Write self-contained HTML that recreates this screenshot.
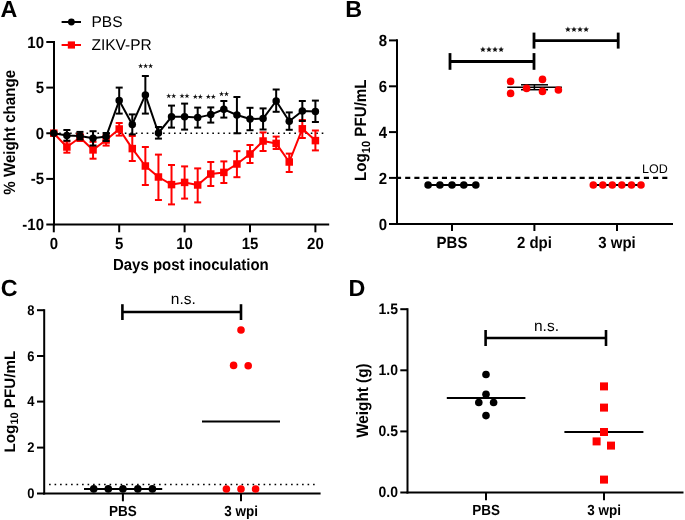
<!DOCTYPE html>
<html><head><meta charset="utf-8"><style>
html,body{margin:0;padding:0;background:#fff;}
body{width:685px;height:520px;overflow:hidden;}
svg{display:block;will-change:transform;}
text{font-family:"Liberation Sans",sans-serif;fill:#000;text-rendering:geometricPrecision;}
</style></head><body>
<svg width="685" height="520" viewBox="0 0 685 520">
<rect width="685" height="520" fill="#fff"/>
<text x="0.60" y="17.10" font-size="23.3" font-weight="bold" text-anchor="start" >A</text>
<line x1="53.70" y1="133.30" x2="324.50" y2="133.30" stroke="#000000" stroke-width="1.6" stroke-dasharray="1.6 3.87"/>
<line x1="54.00" y1="41.00" x2="54.00" y2="225.50" stroke="#000000" stroke-width="2" />
<line x1="53.00" y1="224.50" x2="329.20" y2="224.50" stroke="#000000" stroke-width="2" />
<line x1="46.30" y1="42.00" x2="54.00" y2="42.00" stroke="#000000" stroke-width="2" />
<text transform="translate(44.00 47.50) scale(1.0 1.08)" font-size="15" font-weight="bold" text-anchor="end" >10</text>
<line x1="46.30" y1="87.60" x2="54.00" y2="87.60" stroke="#000000" stroke-width="2" />
<text transform="translate(44.00 93.10) scale(1.0 1.08)" font-size="15" font-weight="bold" text-anchor="end" >5</text>
<line x1="46.30" y1="133.25" x2="54.00" y2="133.25" stroke="#000000" stroke-width="2" />
<text transform="translate(44.00 138.75) scale(1.0 1.08)" font-size="15" font-weight="bold" text-anchor="end" >0</text>
<line x1="46.30" y1="178.90" x2="54.00" y2="178.90" stroke="#000000" stroke-width="2" />
<text transform="translate(44.00 184.40) scale(1.0 1.08)" font-size="15" font-weight="bold" text-anchor="end" >-5</text>
<line x1="46.30" y1="224.50" x2="54.00" y2="224.50" stroke="#000000" stroke-width="2" />
<text transform="translate(44.00 230.00) scale(1.0 1.08)" font-size="15" font-weight="bold" text-anchor="end" >-10</text>
<line x1="53.80" y1="224.50" x2="53.80" y2="232.30" stroke="#000000" stroke-width="2" />
<text transform="translate(53.80 248.80) scale(1.0 1.08)" font-size="15" font-weight="bold" text-anchor="middle" >0</text>
<line x1="119.20" y1="224.50" x2="119.20" y2="232.30" stroke="#000000" stroke-width="2" />
<text transform="translate(119.20 248.80) scale(1.0 1.08)" font-size="15" font-weight="bold" text-anchor="middle" >5</text>
<line x1="184.60" y1="224.50" x2="184.60" y2="232.30" stroke="#000000" stroke-width="2" />
<text transform="translate(184.60 248.80) scale(1.0 1.08)" font-size="15" font-weight="bold" text-anchor="middle" >10</text>
<line x1="250.00" y1="224.50" x2="250.00" y2="232.30" stroke="#000000" stroke-width="2" />
<text transform="translate(250.00 248.80) scale(1.0 1.08)" font-size="15" font-weight="bold" text-anchor="middle" >15</text>
<line x1="315.40" y1="224.50" x2="315.40" y2="232.30" stroke="#000000" stroke-width="2" />
<text transform="translate(315.40 248.80) scale(1.0 1.08)" font-size="15" font-weight="bold" text-anchor="middle" >20</text>
<text transform="translate(190.80 269.70) scale(1.0 1.07)" font-size="15" font-weight="bold" text-anchor="middle" >Days post inoculation</text>
<text transform="translate(15.40 132.30) rotate(-90) scale(1 1.08)" font-size="15.1" font-weight="bold" text-anchor="middle">% Weight change</text>
<line x1="66.88" y1="141.50" x2="66.88" y2="152.70" stroke="#ff0000" stroke-width="2" />
<line x1="63.38" y1="141.50" x2="70.38" y2="141.50" stroke="#ff0000" stroke-width="2" />
<line x1="63.38" y1="152.70" x2="70.38" y2="152.70" stroke="#ff0000" stroke-width="2" />
<line x1="79.96" y1="134.00" x2="79.96" y2="141.00" stroke="#ff0000" stroke-width="2" />
<line x1="76.46" y1="134.00" x2="83.46" y2="134.00" stroke="#ff0000" stroke-width="2" />
<line x1="76.46" y1="141.00" x2="83.46" y2="141.00" stroke="#ff0000" stroke-width="2" />
<line x1="93.04" y1="141.80" x2="93.04" y2="158.70" stroke="#ff0000" stroke-width="2" />
<line x1="89.54" y1="141.80" x2="96.54" y2="141.80" stroke="#ff0000" stroke-width="2" />
<line x1="89.54" y1="158.70" x2="96.54" y2="158.70" stroke="#ff0000" stroke-width="2" />
<line x1="106.12" y1="135.00" x2="106.12" y2="145.60" stroke="#ff0000" stroke-width="2" />
<line x1="102.62" y1="135.00" x2="109.62" y2="135.00" stroke="#ff0000" stroke-width="2" />
<line x1="102.62" y1="145.60" x2="109.62" y2="145.60" stroke="#ff0000" stroke-width="2" />
<line x1="119.20" y1="123.00" x2="119.20" y2="135.60" stroke="#ff0000" stroke-width="2" />
<line x1="115.70" y1="123.00" x2="122.70" y2="123.00" stroke="#ff0000" stroke-width="2" />
<line x1="115.70" y1="135.60" x2="122.70" y2="135.60" stroke="#ff0000" stroke-width="2" />
<line x1="132.28" y1="136.00" x2="132.28" y2="161.00" stroke="#ff0000" stroke-width="2" />
<line x1="128.78" y1="136.00" x2="135.78" y2="136.00" stroke="#ff0000" stroke-width="2" />
<line x1="128.78" y1="161.00" x2="135.78" y2="161.00" stroke="#ff0000" stroke-width="2" />
<line x1="145.36" y1="147.00" x2="145.36" y2="185.00" stroke="#ff0000" stroke-width="2" />
<line x1="141.86" y1="147.00" x2="148.86" y2="147.00" stroke="#ff0000" stroke-width="2" />
<line x1="141.86" y1="185.00" x2="148.86" y2="185.00" stroke="#ff0000" stroke-width="2" />
<line x1="158.44" y1="154.60" x2="158.44" y2="200.00" stroke="#ff0000" stroke-width="2" />
<line x1="154.94" y1="154.60" x2="161.94" y2="154.60" stroke="#ff0000" stroke-width="2" />
<line x1="154.94" y1="200.00" x2="161.94" y2="200.00" stroke="#ff0000" stroke-width="2" />
<line x1="171.52" y1="165.00" x2="171.52" y2="204.40" stroke="#ff0000" stroke-width="2" />
<line x1="168.02" y1="165.00" x2="175.02" y2="165.00" stroke="#ff0000" stroke-width="2" />
<line x1="168.02" y1="204.40" x2="175.02" y2="204.40" stroke="#ff0000" stroke-width="2" />
<line x1="184.60" y1="166.40" x2="184.60" y2="198.60" stroke="#ff0000" stroke-width="2" />
<line x1="181.10" y1="166.40" x2="188.10" y2="166.40" stroke="#ff0000" stroke-width="2" />
<line x1="181.10" y1="198.60" x2="188.10" y2="198.60" stroke="#ff0000" stroke-width="2" />
<line x1="197.68" y1="168.40" x2="197.68" y2="202.40" stroke="#ff0000" stroke-width="2" />
<line x1="194.18" y1="168.40" x2="201.18" y2="168.40" stroke="#ff0000" stroke-width="2" />
<line x1="194.18" y1="202.40" x2="201.18" y2="202.40" stroke="#ff0000" stroke-width="2" />
<line x1="210.76" y1="162.00" x2="210.76" y2="186.00" stroke="#ff0000" stroke-width="2" />
<line x1="207.26" y1="162.00" x2="214.26" y2="162.00" stroke="#ff0000" stroke-width="2" />
<line x1="207.26" y1="186.00" x2="214.26" y2="186.00" stroke="#ff0000" stroke-width="2" />
<line x1="223.84" y1="161.40" x2="223.84" y2="183.00" stroke="#ff0000" stroke-width="2" />
<line x1="220.34" y1="161.40" x2="227.34" y2="161.40" stroke="#ff0000" stroke-width="2" />
<line x1="220.34" y1="183.00" x2="227.34" y2="183.00" stroke="#ff0000" stroke-width="2" />
<line x1="236.92" y1="151.20" x2="236.92" y2="177.20" stroke="#ff0000" stroke-width="2" />
<line x1="233.42" y1="151.20" x2="240.42" y2="151.20" stroke="#ff0000" stroke-width="2" />
<line x1="233.42" y1="177.20" x2="240.42" y2="177.20" stroke="#ff0000" stroke-width="2" />
<line x1="250.00" y1="145.00" x2="250.00" y2="163.00" stroke="#ff0000" stroke-width="2" />
<line x1="246.50" y1="145.00" x2="253.50" y2="145.00" stroke="#ff0000" stroke-width="2" />
<line x1="246.50" y1="163.00" x2="253.50" y2="163.00" stroke="#ff0000" stroke-width="2" />
<line x1="263.08" y1="132.40" x2="263.08" y2="151.00" stroke="#ff0000" stroke-width="2" />
<line x1="259.58" y1="132.40" x2="266.58" y2="132.40" stroke="#ff0000" stroke-width="2" />
<line x1="259.58" y1="151.00" x2="266.58" y2="151.00" stroke="#ff0000" stroke-width="2" />
<line x1="276.16" y1="136.60" x2="276.16" y2="149.00" stroke="#ff0000" stroke-width="2" />
<line x1="272.66" y1="136.60" x2="279.66" y2="136.60" stroke="#ff0000" stroke-width="2" />
<line x1="272.66" y1="149.00" x2="279.66" y2="149.00" stroke="#ff0000" stroke-width="2" />
<line x1="289.24" y1="153.60" x2="289.24" y2="172.00" stroke="#ff0000" stroke-width="2" />
<line x1="285.74" y1="153.60" x2="292.74" y2="153.60" stroke="#ff0000" stroke-width="2" />
<line x1="285.74" y1="172.00" x2="292.74" y2="172.00" stroke="#ff0000" stroke-width="2" />
<line x1="302.32" y1="120.00" x2="302.32" y2="138.00" stroke="#ff0000" stroke-width="2" />
<line x1="298.82" y1="120.00" x2="305.82" y2="120.00" stroke="#ff0000" stroke-width="2" />
<line x1="298.82" y1="138.00" x2="305.82" y2="138.00" stroke="#ff0000" stroke-width="2" />
<line x1="315.40" y1="130.50" x2="315.40" y2="150.40" stroke="#ff0000" stroke-width="2" />
<line x1="311.90" y1="130.50" x2="318.90" y2="130.50" stroke="#ff0000" stroke-width="2" />
<line x1="311.90" y1="150.40" x2="318.90" y2="150.40" stroke="#ff0000" stroke-width="2" />
<polyline points="53.80,133.20 66.88,147.00 79.96,137.50 93.04,149.90 106.12,140.00 119.20,129.00 132.28,148.60 145.36,166.00 158.44,177.00 171.52,184.60 184.60,182.40 197.68,185.00 210.76,174.00 223.84,172.40 236.92,164.00 250.00,154.00 263.08,141.00 276.16,143.40 289.24,162.00 302.32,128.80 315.40,140.60" fill="none" stroke="#ff0000" stroke-width="2" stroke-linejoin="round"/>
<rect x="50.05" y="129.45" width="7.5" height="7.5" fill="#ff0000"/>
<rect x="63.13" y="143.25" width="7.5" height="7.5" fill="#ff0000"/>
<rect x="76.21" y="133.75" width="7.5" height="7.5" fill="#ff0000"/>
<rect x="89.29" y="146.15" width="7.5" height="7.5" fill="#ff0000"/>
<rect x="102.37" y="136.25" width="7.5" height="7.5" fill="#ff0000"/>
<rect x="115.45" y="125.25" width="7.5" height="7.5" fill="#ff0000"/>
<rect x="128.53" y="144.85" width="7.5" height="7.5" fill="#ff0000"/>
<rect x="141.61" y="162.25" width="7.5" height="7.5" fill="#ff0000"/>
<rect x="154.69" y="173.25" width="7.5" height="7.5" fill="#ff0000"/>
<rect x="167.77" y="180.85" width="7.5" height="7.5" fill="#ff0000"/>
<rect x="180.85" y="178.65" width="7.5" height="7.5" fill="#ff0000"/>
<rect x="193.93" y="181.25" width="7.5" height="7.5" fill="#ff0000"/>
<rect x="207.01" y="170.25" width="7.5" height="7.5" fill="#ff0000"/>
<rect x="220.09" y="168.65" width="7.5" height="7.5" fill="#ff0000"/>
<rect x="233.17" y="160.25" width="7.5" height="7.5" fill="#ff0000"/>
<rect x="246.25" y="150.25" width="7.5" height="7.5" fill="#ff0000"/>
<rect x="259.33" y="137.25" width="7.5" height="7.5" fill="#ff0000"/>
<rect x="272.41" y="139.65" width="7.5" height="7.5" fill="#ff0000"/>
<rect x="285.49" y="158.25" width="7.5" height="7.5" fill="#ff0000"/>
<rect x="298.57" y="125.05" width="7.5" height="7.5" fill="#ff0000"/>
<rect x="311.65" y="136.85" width="7.5" height="7.5" fill="#ff0000"/>
<line x1="66.88" y1="130.00" x2="66.88" y2="140.70" stroke="#000000" stroke-width="2" />
<line x1="63.38" y1="130.00" x2="70.38" y2="130.00" stroke="#000000" stroke-width="2" />
<line x1="63.38" y1="140.70" x2="70.38" y2="140.70" stroke="#000000" stroke-width="2" />
<line x1="79.96" y1="131.90" x2="79.96" y2="139.50" stroke="#000000" stroke-width="2" />
<line x1="76.46" y1="131.90" x2="83.46" y2="131.90" stroke="#000000" stroke-width="2" />
<line x1="76.46" y1="139.50" x2="83.46" y2="139.50" stroke="#000000" stroke-width="2" />
<line x1="93.04" y1="131.20" x2="93.04" y2="145.50" stroke="#000000" stroke-width="2" />
<line x1="89.54" y1="131.20" x2="96.54" y2="131.20" stroke="#000000" stroke-width="2" />
<line x1="89.54" y1="145.50" x2="96.54" y2="145.50" stroke="#000000" stroke-width="2" />
<line x1="106.12" y1="133.00" x2="106.12" y2="141.00" stroke="#000000" stroke-width="2" />
<line x1="102.62" y1="133.00" x2="109.62" y2="133.00" stroke="#000000" stroke-width="2" />
<line x1="102.62" y1="141.00" x2="109.62" y2="141.00" stroke="#000000" stroke-width="2" />
<line x1="119.20" y1="87.60" x2="119.20" y2="113.60" stroke="#000000" stroke-width="2" />
<line x1="115.70" y1="87.60" x2="122.70" y2="87.60" stroke="#000000" stroke-width="2" />
<line x1="115.70" y1="113.60" x2="122.70" y2="113.60" stroke="#000000" stroke-width="2" />
<line x1="132.28" y1="114.40" x2="132.28" y2="134.40" stroke="#000000" stroke-width="2" />
<line x1="128.78" y1="114.40" x2="135.78" y2="114.40" stroke="#000000" stroke-width="2" />
<line x1="128.78" y1="134.40" x2="135.78" y2="134.40" stroke="#000000" stroke-width="2" />
<line x1="145.36" y1="76.00" x2="145.36" y2="113.60" stroke="#000000" stroke-width="2" />
<line x1="141.86" y1="76.00" x2="148.86" y2="76.00" stroke="#000000" stroke-width="2" />
<line x1="141.86" y1="113.60" x2="148.86" y2="113.60" stroke="#000000" stroke-width="2" />
<line x1="158.44" y1="127.00" x2="158.44" y2="138.60" stroke="#000000" stroke-width="2" />
<line x1="154.94" y1="127.00" x2="161.94" y2="127.00" stroke="#000000" stroke-width="2" />
<line x1="154.94" y1="138.60" x2="161.94" y2="138.60" stroke="#000000" stroke-width="2" />
<line x1="171.52" y1="105.60" x2="171.52" y2="127.60" stroke="#000000" stroke-width="2" />
<line x1="168.02" y1="105.60" x2="175.02" y2="105.60" stroke="#000000" stroke-width="2" />
<line x1="168.02" y1="127.60" x2="175.02" y2="127.60" stroke="#000000" stroke-width="2" />
<line x1="184.60" y1="103.60" x2="184.60" y2="129.60" stroke="#000000" stroke-width="2" />
<line x1="181.10" y1="103.60" x2="188.10" y2="103.60" stroke="#000000" stroke-width="2" />
<line x1="181.10" y1="129.60" x2="188.10" y2="129.60" stroke="#000000" stroke-width="2" />
<line x1="197.68" y1="107.60" x2="197.68" y2="127.60" stroke="#000000" stroke-width="2" />
<line x1="194.18" y1="107.60" x2="201.18" y2="107.60" stroke="#000000" stroke-width="2" />
<line x1="194.18" y1="127.60" x2="201.18" y2="127.60" stroke="#000000" stroke-width="2" />
<line x1="210.76" y1="107.40" x2="210.76" y2="122.60" stroke="#000000" stroke-width="2" />
<line x1="207.26" y1="107.40" x2="214.26" y2="107.40" stroke="#000000" stroke-width="2" />
<line x1="207.26" y1="122.60" x2="214.26" y2="122.60" stroke="#000000" stroke-width="2" />
<line x1="223.84" y1="101.00" x2="223.84" y2="117.60" stroke="#000000" stroke-width="2" />
<line x1="220.34" y1="101.00" x2="227.34" y2="101.00" stroke="#000000" stroke-width="2" />
<line x1="220.34" y1="117.60" x2="227.34" y2="117.60" stroke="#000000" stroke-width="2" />
<line x1="236.92" y1="97.00" x2="236.92" y2="133.30" stroke="#000000" stroke-width="2" />
<line x1="233.42" y1="97.00" x2="240.42" y2="97.00" stroke="#000000" stroke-width="2" />
<line x1="233.42" y1="133.30" x2="240.42" y2="133.30" stroke="#000000" stroke-width="2" />
<line x1="250.00" y1="107.80" x2="250.00" y2="130.20" stroke="#000000" stroke-width="2" />
<line x1="246.50" y1="107.80" x2="253.50" y2="107.80" stroke="#000000" stroke-width="2" />
<line x1="246.50" y1="130.20" x2="253.50" y2="130.20" stroke="#000000" stroke-width="2" />
<line x1="263.08" y1="108.40" x2="263.08" y2="129.50" stroke="#000000" stroke-width="2" />
<line x1="259.58" y1="108.40" x2="266.58" y2="108.40" stroke="#000000" stroke-width="2" />
<line x1="259.58" y1="129.50" x2="266.58" y2="129.50" stroke="#000000" stroke-width="2" />
<line x1="276.16" y1="89.50" x2="276.16" y2="111.80" stroke="#000000" stroke-width="2" />
<line x1="272.66" y1="89.50" x2="279.66" y2="89.50" stroke="#000000" stroke-width="2" />
<line x1="272.66" y1="111.80" x2="279.66" y2="111.80" stroke="#000000" stroke-width="2" />
<line x1="289.24" y1="112.40" x2="289.24" y2="129.80" stroke="#000000" stroke-width="2" />
<line x1="285.74" y1="112.40" x2="292.74" y2="112.40" stroke="#000000" stroke-width="2" />
<line x1="285.74" y1="129.80" x2="292.74" y2="129.80" stroke="#000000" stroke-width="2" />
<line x1="302.32" y1="101.00" x2="302.32" y2="121.00" stroke="#000000" stroke-width="2" />
<line x1="298.82" y1="101.00" x2="305.82" y2="101.00" stroke="#000000" stroke-width="2" />
<line x1="298.82" y1="121.00" x2="305.82" y2="121.00" stroke="#000000" stroke-width="2" />
<line x1="315.40" y1="100.60" x2="315.40" y2="122.00" stroke="#000000" stroke-width="2" />
<line x1="311.90" y1="100.60" x2="318.90" y2="100.60" stroke="#000000" stroke-width="2" />
<line x1="311.90" y1="122.00" x2="318.90" y2="122.00" stroke="#000000" stroke-width="2" />
<polyline points="53.80,133.20 66.88,135.60 79.96,135.90 93.04,138.20 106.12,136.60 119.20,100.60 132.28,124.40 145.36,94.90 158.44,133.00 171.52,116.80 184.60,116.80 197.68,117.60 210.76,114.60 223.84,109.30 236.92,115.00 250.00,119.00 263.08,118.60 276.16,101.00 289.24,121.20 302.32,111.00 315.40,111.40" fill="none" stroke="#000000" stroke-width="2" stroke-linejoin="round"/>
<circle cx="53.80" cy="133.20" r="3.75" fill="#000000"/>
<circle cx="66.88" cy="135.60" r="3.75" fill="#000000"/>
<circle cx="79.96" cy="135.90" r="3.75" fill="#000000"/>
<circle cx="93.04" cy="138.20" r="3.75" fill="#000000"/>
<circle cx="106.12" cy="136.60" r="3.75" fill="#000000"/>
<circle cx="119.20" cy="100.60" r="3.75" fill="#000000"/>
<circle cx="132.28" cy="124.40" r="3.75" fill="#000000"/>
<circle cx="145.36" cy="94.90" r="3.75" fill="#000000"/>
<circle cx="158.44" cy="133.00" r="3.75" fill="#000000"/>
<circle cx="171.52" cy="116.80" r="3.75" fill="#000000"/>
<circle cx="184.60" cy="116.80" r="3.75" fill="#000000"/>
<circle cx="197.68" cy="117.60" r="3.75" fill="#000000"/>
<circle cx="210.76" cy="114.60" r="3.75" fill="#000000"/>
<circle cx="223.84" cy="109.30" r="3.75" fill="#000000"/>
<circle cx="236.92" cy="115.00" r="3.75" fill="#000000"/>
<circle cx="250.00" cy="119.00" r="3.75" fill="#000000"/>
<circle cx="263.08" cy="118.60" r="3.75" fill="#000000"/>
<circle cx="276.16" cy="101.00" r="3.75" fill="#000000"/>
<circle cx="289.24" cy="121.20" r="3.75" fill="#000000"/>
<circle cx="302.32" cy="111.00" r="3.75" fill="#000000"/>
<circle cx="315.40" cy="111.40" r="3.75" fill="#000000"/>
<polygon points="140.60,63.30 141.22,65.15 143.17,65.17 141.60,66.32 142.19,68.18 140.60,67.05 139.01,68.18 139.60,66.32 138.03,65.17 139.98,65.15" fill="#111"/>
<polygon points="145.60,63.30 146.22,65.15 148.17,65.17 146.60,66.32 147.19,68.18 145.60,67.05 144.01,68.18 144.60,66.32 143.03,65.17 144.98,65.15" fill="#111"/>
<polygon points="150.60,63.30 151.22,65.15 153.17,65.17 151.60,66.32 152.19,68.18 150.60,67.05 149.01,68.18 149.60,66.32 148.03,65.17 149.98,65.15" fill="#111"/>
<polygon points="168.70,93.30 169.32,95.15 171.27,95.17 169.70,96.32 170.29,98.18 168.70,97.05 167.11,98.18 167.70,96.32 166.13,95.17 168.08,95.15" fill="#111"/>
<polygon points="173.70,93.30 174.32,95.15 176.27,95.17 174.70,96.32 175.29,98.18 173.70,97.05 172.11,98.18 172.70,96.32 171.13,95.17 173.08,95.15" fill="#111"/>
<polygon points="182.00,93.30 182.62,95.15 184.57,95.17 183.00,96.32 183.59,98.18 182.00,97.05 180.41,98.18 181.00,96.32 179.43,95.17 181.38,95.15" fill="#111"/>
<polygon points="187.00,93.30 187.62,95.15 189.57,95.17 188.00,96.32 188.59,98.18 187.00,97.05 185.41,98.18 186.00,96.32 184.43,95.17 186.38,95.15" fill="#111"/>
<polygon points="195.30,94.10 195.92,95.95 197.87,95.97 196.30,97.12 196.89,98.98 195.30,97.85 193.71,98.98 194.30,97.12 192.73,95.97 194.68,95.95" fill="#111"/>
<polygon points="200.30,94.10 200.92,95.95 202.87,95.97 201.30,97.12 201.89,98.98 200.30,97.85 198.71,98.98 199.30,97.12 197.73,95.97 199.68,95.95" fill="#111"/>
<polygon points="208.30,94.10 208.92,95.95 210.87,95.97 209.30,97.12 209.89,98.98 208.30,97.85 206.71,98.98 207.30,97.12 205.73,95.97 207.68,95.95" fill="#111"/>
<polygon points="213.30,94.10 213.92,95.95 215.87,95.97 214.30,97.12 214.89,98.98 213.30,97.85 211.71,98.98 212.30,97.12 210.73,95.97 212.68,95.95" fill="#111"/>
<polygon points="221.50,91.30 222.12,93.15 224.07,93.17 222.50,94.32 223.09,96.18 221.50,95.05 219.91,96.18 220.50,94.32 218.93,93.17 220.88,93.15" fill="#111"/>
<polygon points="226.50,91.30 227.12,93.15 229.07,93.17 227.50,94.32 228.09,96.18 226.50,95.05 224.91,96.18 225.50,94.32 223.93,93.17 225.88,93.15" fill="#111"/>
<line x1="61.60" y1="22.00" x2="81.00" y2="22.00" stroke="#000000" stroke-width="2" />
<circle cx="71.40" cy="22.00" r="3.4" fill="#000000"/>
<text x="91.50" y="26.80" font-size="15.5" font-weight="normal" text-anchor="start" >PBS</text>
<line x1="61.60" y1="45.00" x2="81.00" y2="45.00" stroke="#ff0000" stroke-width="2" />
<rect x="67.80" y="41.40" width="7.2" height="7.2" fill="#ff0000"/>
<text x="91.50" y="50.10" font-size="15.5" font-weight="normal" text-anchor="start" >ZIKV-PR</text>
<text x="345.30" y="17.00" font-size="23.3" font-weight="bold" text-anchor="start" >B</text>
<line x1="397.00" y1="39.20" x2="397.00" y2="225.00" stroke="#000000" stroke-width="2" />
<line x1="396.00" y1="224.00" x2="673.00" y2="224.00" stroke="#000000" stroke-width="2" />
<line x1="389.00" y1="40.40" x2="397.00" y2="40.40" stroke="#000000" stroke-width="2" />
<text transform="translate(387.20 46.00) scale(1.0 1.08)" font-size="15" font-weight="bold" text-anchor="end" >8</text>
<line x1="389.00" y1="86.30" x2="397.00" y2="86.30" stroke="#000000" stroke-width="2" />
<text transform="translate(387.20 91.90) scale(1.0 1.08)" font-size="15" font-weight="bold" text-anchor="end" >6</text>
<line x1="389.00" y1="132.10" x2="397.00" y2="132.10" stroke="#000000" stroke-width="2" />
<text transform="translate(387.20 137.70) scale(1.0 1.08)" font-size="15" font-weight="bold" text-anchor="end" >4</text>
<line x1="389.00" y1="177.90" x2="397.00" y2="177.90" stroke="#000000" stroke-width="2" />
<text transform="translate(387.20 183.50) scale(1.0 1.08)" font-size="15" font-weight="bold" text-anchor="end" >2</text>
<line x1="389.00" y1="224.00" x2="397.00" y2="224.00" stroke="#000000" stroke-width="2" />
<text transform="translate(387.20 229.60) scale(1.0 1.08)" font-size="15" font-weight="bold" text-anchor="end" >0</text>
<line x1="452.00" y1="224.00" x2="452.00" y2="231.00" stroke="#000000" stroke-width="2" />
<text transform="translate(452.00 247.80) scale(1.0 1.08)" font-size="15" font-weight="bold" text-anchor="middle" >PBS</text>
<line x1="534.40" y1="224.00" x2="534.40" y2="231.00" stroke="#000000" stroke-width="2" />
<text transform="translate(534.40 247.80) scale(1.0 1.08)" font-size="15" font-weight="bold" text-anchor="middle" >2 dpi</text>
<line x1="617.00" y1="224.00" x2="617.00" y2="231.00" stroke="#000000" stroke-width="2" />
<text transform="translate(617.00 247.80) scale(1.0 1.08)" font-size="15" font-weight="bold" text-anchor="middle" >3 wpi</text>
<text transform="translate(366.30 130.20) rotate(-90) scale(1 1.08)" font-size="15.2" font-weight="bold" text-anchor="middle">Log<tspan font-size="11" dy="3">10</tspan><tspan dy="-3"> PFU/mL</tspan></text>
<line x1="396.00" y1="177.90" x2="669.00" y2="177.90" stroke="#000000" stroke-width="2.2" stroke-dasharray="5.1 4.08"/>
<text x="667.80" y="173.20" font-size="12.5" font-weight="normal" text-anchor="end" >LOD</text>
<line x1="428.00" y1="185.00" x2="476.00" y2="185.00" stroke="#000000" stroke-width="2" />
<circle cx="428.10" cy="185.00" r="3.8" fill="#000000"/>
<circle cx="439.90" cy="185.00" r="3.8" fill="#000000"/>
<circle cx="452.00" cy="185.00" r="3.8" fill="#000000"/>
<circle cx="463.80" cy="185.00" r="3.8" fill="#000000"/>
<circle cx="475.80" cy="185.00" r="3.8" fill="#000000"/>
<line x1="593.00" y1="185.00" x2="641.00" y2="185.00" stroke="#000000" stroke-width="2" />
<circle cx="593.30" cy="185.00" r="3.8" fill="#ff0000"/>
<circle cx="602.80" cy="185.00" r="3.8" fill="#ff0000"/>
<circle cx="612.30" cy="185.00" r="3.8" fill="#ff0000"/>
<circle cx="621.80" cy="185.00" r="3.8" fill="#ff0000"/>
<circle cx="631.50" cy="185.00" r="3.8" fill="#ff0000"/>
<circle cx="641.00" cy="185.00" r="3.8" fill="#ff0000"/>
<line x1="507.20" y1="87.30" x2="561.90" y2="87.30" stroke="#000000" stroke-width="1.6" />
<line x1="521.00" y1="84.80" x2="548.00" y2="84.80" stroke="#000000" stroke-width="1.5" />
<line x1="521.00" y1="89.70" x2="548.00" y2="89.70" stroke="#000000" stroke-width="1.5" />
<line x1="534.40" y1="84.80" x2="534.40" y2="89.70" stroke="#000000" stroke-width="1.5" />
<circle cx="510.60" cy="81.40" r="3.8" fill="#ff0000"/>
<circle cx="510.60" cy="93.40" r="3.8" fill="#ff0000"/>
<circle cx="526.60" cy="88.40" r="3.8" fill="#ff0000"/>
<circle cx="542.50" cy="79.40" r="3.8" fill="#ff0000"/>
<circle cx="542.50" cy="91.40" r="3.8" fill="#ff0000"/>
<circle cx="558.40" cy="90.00" r="3.8" fill="#ff0000"/>
<line x1="450.00" y1="61.50" x2="534.00" y2="61.50" stroke="#000000" stroke-width="2.8" />
<line x1="450.00" y1="53.10" x2="450.00" y2="69.80" stroke="#000000" stroke-width="2.8" />
<line x1="534.00" y1="53.10" x2="534.00" y2="69.80" stroke="#000000" stroke-width="2.8" />
<line x1="534.00" y1="40.60" x2="618.20" y2="40.60" stroke="#000000" stroke-width="2.8" />
<line x1="534.00" y1="32.60" x2="534.00" y2="48.60" stroke="#000000" stroke-width="2.8" />
<line x1="618.20" y1="32.60" x2="618.20" y2="48.60" stroke="#000000" stroke-width="2.8" />
<polygon points="482.89,46.60 483.69,48.51 485.75,48.67 484.18,50.02 484.66,52.03 482.89,50.95 481.13,52.03 481.61,50.02 480.04,48.67 482.10,48.51" fill="#111"/>
<polygon points="488.96,46.60 489.76,48.51 491.82,48.67 490.25,50.02 490.73,52.03 488.96,50.95 487.20,52.03 487.68,50.02 486.11,48.67 488.17,48.51" fill="#111"/>
<polygon points="495.03,46.60 495.83,48.51 497.89,48.67 496.32,50.02 496.80,52.03 495.03,50.95 493.27,52.03 493.75,50.02 492.18,48.67 494.24,48.51" fill="#111"/>
<polygon points="501.10,46.60 501.90,48.51 503.96,48.67 502.39,50.02 502.87,52.03 501.10,50.95 499.34,52.03 499.82,50.02 498.25,48.67 500.31,48.51" fill="#111"/>
<polygon points="567.89,26.50 568.69,28.41 570.75,28.57 569.18,29.92 569.66,31.93 567.89,30.85 566.13,31.93 566.61,29.92 565.04,28.57 567.10,28.41" fill="#111"/>
<polygon points="573.97,26.50 574.76,28.41 576.82,28.57 575.25,29.92 575.73,31.93 573.97,30.85 572.20,31.93 572.68,29.92 571.11,28.57 573.17,28.41" fill="#111"/>
<polygon points="580.03,26.50 580.83,28.41 582.89,28.57 581.32,29.92 581.80,31.93 580.03,30.85 578.27,31.93 578.75,29.92 577.18,28.57 579.24,28.41" fill="#111"/>
<polygon points="586.11,26.50 586.90,28.41 588.96,28.57 587.39,29.92 587.87,31.93 586.11,30.85 584.34,31.93 584.82,29.92 583.25,28.57 585.31,28.41" fill="#111"/>
<text x="0.80" y="296.20" font-size="23.3" font-weight="bold" text-anchor="start" >C</text>
<line x1="44.20" y1="309.20" x2="44.20" y2="494.50" stroke="#000000" stroke-width="2" />
<line x1="43.20" y1="493.50" x2="320.60" y2="493.50" stroke="#000000" stroke-width="2" />
<line x1="37.00" y1="310.20" x2="44.20" y2="310.20" stroke="#000000" stroke-width="2" />
<text transform="translate(34.60 314.90) scale(1.0 1.08)" font-size="13" font-weight="bold" text-anchor="end" >8</text>
<line x1="37.00" y1="356.00" x2="44.20" y2="356.00" stroke="#000000" stroke-width="2" />
<text transform="translate(34.60 360.70) scale(1.0 1.08)" font-size="13" font-weight="bold" text-anchor="end" >6</text>
<line x1="37.00" y1="401.60" x2="44.20" y2="401.60" stroke="#000000" stroke-width="2" />
<text transform="translate(34.60 406.30) scale(1.0 1.08)" font-size="13" font-weight="bold" text-anchor="end" >4</text>
<line x1="37.00" y1="447.60" x2="44.20" y2="447.60" stroke="#000000" stroke-width="2" />
<text transform="translate(34.60 452.30) scale(1.0 1.08)" font-size="13" font-weight="bold" text-anchor="end" >2</text>
<line x1="37.00" y1="493.50" x2="44.20" y2="493.50" stroke="#000000" stroke-width="2" />
<text transform="translate(34.60 498.20) scale(1.0 1.08)" font-size="13" font-weight="bold" text-anchor="end" >0</text>
<line x1="122.90" y1="493.50" x2="122.90" y2="501.30" stroke="#000000" stroke-width="2" />
<text transform="translate(122.90 515.80) scale(1.0 1.08)" font-size="13.5" font-weight="bold" text-anchor="middle" >PBS</text>
<line x1="241.00" y1="493.50" x2="241.00" y2="501.30" stroke="#000000" stroke-width="2" />
<text transform="translate(241.00 515.80) scale(1.0 1.08)" font-size="13.5" font-weight="bold" text-anchor="middle" >3 wpi</text>
<text transform="translate(15.30 401.60) rotate(-90) scale(1 1.0)" font-size="15.2" font-weight="bold" text-anchor="middle">Log<tspan font-size="11" dy="3">10</tspan><tspan dy="-3"> PFU/mL</tspan></text>
<line x1="49.07" y1="484.50" x2="316.00" y2="484.50" stroke="#000000" stroke-width="1.6" stroke-dasharray="1.6 3.9"/>
<line x1="84.00" y1="489.00" x2="162.20" y2="489.00" stroke="#000000" stroke-width="2" />
<circle cx="93.70" cy="488.90" r="3.8" fill="#000000"/>
<circle cx="108.30" cy="488.90" r="3.8" fill="#000000"/>
<circle cx="122.90" cy="488.90" r="3.8" fill="#000000"/>
<circle cx="137.80" cy="488.90" r="3.8" fill="#000000"/>
<circle cx="152.40" cy="488.90" r="3.8" fill="#000000"/>
<line x1="202.00" y1="421.50" x2="280.00" y2="421.50" stroke="#000000" stroke-width="2" />
<circle cx="241.00" cy="330.00" r="3.8" fill="#ff0000"/>
<circle cx="233.60" cy="365.40" r="3.8" fill="#ff0000"/>
<circle cx="248.20" cy="365.80" r="3.8" fill="#ff0000"/>
<circle cx="226.40" cy="489.00" r="3.8" fill="#ff0000"/>
<circle cx="241.00" cy="489.00" r="3.8" fill="#ff0000"/>
<circle cx="255.60" cy="489.00" r="3.8" fill="#ff0000"/>
<line x1="122.40" y1="312.00" x2="241.00" y2="312.00" stroke="#000000" stroke-width="2.6" />
<line x1="122.40" y1="304.20" x2="122.40" y2="320.00" stroke="#000000" stroke-width="2.6" />
<line x1="241.00" y1="304.20" x2="241.00" y2="320.00" stroke="#000000" stroke-width="2.6" />
<text x="183.30" y="304.20" font-size="15.5" font-weight="normal" text-anchor="middle" >n.s.</text>
<text x="348.60" y="295.80" font-size="23.3" font-weight="bold" text-anchor="start" >D</text>
<line x1="407.50" y1="308.20" x2="407.50" y2="493.50" stroke="#000000" stroke-width="2" />
<line x1="406.60" y1="492.50" x2="683.50" y2="492.50" stroke="#000000" stroke-width="2" />
<line x1="400.30" y1="309.20" x2="407.50" y2="309.20" stroke="#000000" stroke-width="2" />
<text transform="translate(398.00 314.10) scale(1.0 1.08)" font-size="14" font-weight="bold" text-anchor="end" >1.5</text>
<line x1="400.30" y1="370.30" x2="407.50" y2="370.30" stroke="#000000" stroke-width="2" />
<text transform="translate(398.00 375.20) scale(1.0 1.08)" font-size="14" font-weight="bold" text-anchor="end" >1.0</text>
<line x1="400.30" y1="431.40" x2="407.50" y2="431.40" stroke="#000000" stroke-width="2" />
<text transform="translate(398.00 436.30) scale(1.0 1.08)" font-size="14" font-weight="bold" text-anchor="end" >0.5</text>
<line x1="400.30" y1="492.50" x2="407.50" y2="492.50" stroke="#000000" stroke-width="2" />
<text transform="translate(398.00 497.40) scale(1.0 1.08)" font-size="14" font-weight="bold" text-anchor="end" >0.0</text>
<line x1="486.00" y1="492.50" x2="486.00" y2="500.20" stroke="#000000" stroke-width="2" />
<text transform="translate(486.00 514.80) scale(1.0 1.08)" font-size="13.5" font-weight="bold" text-anchor="middle" >PBS</text>
<line x1="604.00" y1="492.50" x2="604.00" y2="500.20" stroke="#000000" stroke-width="2" />
<text transform="translate(604.00 514.80) scale(1.0 1.08)" font-size="13.5" font-weight="bold" text-anchor="middle" >3 wpi</text>
<text transform="translate(367.70 400.60) rotate(-90) scale(1 1.08)" font-size="15.3" font-weight="bold" text-anchor="middle">Weight (g)</text>
<line x1="485.60" y1="338.00" x2="606.00" y2="338.00" stroke="#000000" stroke-width="2.6" />
<line x1="485.60" y1="330.00" x2="485.60" y2="346.00" stroke="#000000" stroke-width="2.6" />
<line x1="606.00" y1="330.00" x2="606.00" y2="346.00" stroke="#000000" stroke-width="2.6" />
<text x="546.50" y="331.00" font-size="15.5" font-weight="normal" text-anchor="middle" >n.s.</text>
<line x1="446.80" y1="398.00" x2="525.40" y2="398.00" stroke="#000000" stroke-width="2" />
<circle cx="486.00" cy="374.50" r="3.8" fill="#000000"/>
<circle cx="486.00" cy="394.20" r="3.8" fill="#000000"/>
<circle cx="478.80" cy="402.50" r="3.8" fill="#000000"/>
<circle cx="493.60" cy="402.50" r="3.8" fill="#000000"/>
<circle cx="486.00" cy="415.60" r="3.8" fill="#000000"/>
<line x1="564.40" y1="432.00" x2="643.40" y2="432.00" stroke="#000000" stroke-width="2" />
<rect x="600.00" y="382.40" width="8" height="8" fill="#ff0000"/>
<rect x="600.00" y="403.60" width="8" height="8" fill="#ff0000"/>
<rect x="600.00" y="428.00" width="8" height="8" fill="#ff0000"/>
<rect x="592.60" y="437.40" width="8" height="8" fill="#ff0000"/>
<rect x="607.00" y="441.60" width="8" height="8" fill="#ff0000"/>
<rect x="600.00" y="475.60" width="8" height="8" fill="#ff0000"/>
</svg>
</body></html>
